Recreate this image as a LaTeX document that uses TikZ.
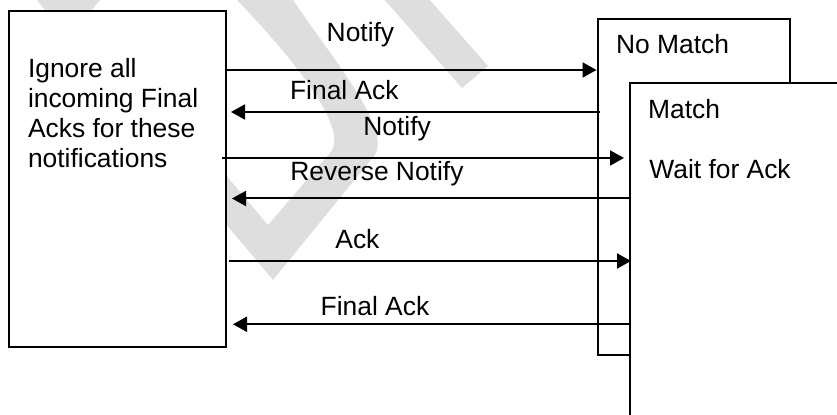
\documentclass[tikz,border=0pt]{standalone}
\usepackage{fontspec}
\setmainfont{Liberation Sans}
\usetikzlibrary{arrows.meta}
\tikzset{>={Triangle[length=7pt,width=7.5pt]}}
\tikzstyle{box}=[draw,line width=1pt,fill=white,anchor=north west,inner sep=0pt]
\tikzstyle{msg}=[->,line width=1pt]
\tikzstyle{txt}=[anchor=base west,inner sep=0pt,font=\fontsize{13.2}{15}\selectfont]
\tikzstyle{draft}=[fill=black!13]

\begin{document}
\begin{tikzpicture}[x=0.5pt,y=-0.5pt]

  % page
  \useasboundingbox (0,0) rectangle (837,415);
  \clip (0,0) rectangle (837,415);

  % draft mark
  \fill[draft,even odd rule]
    (3,-40) -- (273,280) -- (374,156)
      .. controls (394,131) and (330,55) .. (293,0) -- (262,-45) -- cycle
    (117,-25) -- (100,0) -- (89,13) -- (268,225) -- (330,153)
      .. controls (352,128) and (285,50) .. (237,0) -- (210,-25) -- cycle;
  \fill[draft]
    (376,-10) -- (421,-10) -- (488,66) -- (462,88) -- cycle;

  % boxes
  \node[box,minimum width=108.5pt,minimum height=168pt] (sender) at (8.3,10.2) {};
  \node[box,minimum width=96.25pt,minimum height=168pt] (nomatch) at (596.5,18.3) {};
  \node[box,minimum width=150pt,minimum height=200pt] (match) at (629,82) {};

  % box texts
  \node[txt,anchor=north west,align=left] (ignore) at (27.6,58)
    {Ignore all\\incoming Final\\Acks for these\\notifications};
  \node[txt] (nomatchlbl) at (615.7,54) {No Match};
  \node[txt] (matchlbl) at (647.7,118.3) {Match};
  \node[txt] (waitlbl) at (649,179) {Wait for Ack};

  % messages
  \draw[msg]
    (sender.east |- 0,70) -- (nomatch.west |- 0,70);
  \draw[msg,shorten <=-1.75pt,shorten >=1.85pt]
    (nomatch.west |- 0,112) -- (sender.east |- 0,112);
  \draw[msg,shorten <=-2.65pt,shorten >=2.5pt]
    (sender.east |- 0,158) -- (match.west |- 0,158);
  \draw[msg,shorten >=2.35pt]
    (match.west |- 0,198.5) -- (sender.east |- 0,198.5);
  \draw[msg,shorten <=0.85pt,shorten >=-1pt]
    (sender.east |- 0,261) -- (match.west |- 0,261);
  \draw[msg,shorten >=2.85pt]
    (match.west |- 0,324.3) -- (sender.east |- 0,324.3);

  % message labels
  \node[txt] (notify1) at (326.3,41.5) {Notify};
  \node[txt] (finalack1) at (289.7,100) {Final Ack};
  \node[txt] (notify2) at (363,136) {Notify};
  \node[txt] (revnotify) at (290,180.7) {Reverse Notify};
  \node[txt] (ack) at (335,248.3) {Ack};
  \node[txt] (finalack2) at (320.3,316) {Final Ack};

\end{tikzpicture}
\end{document}
